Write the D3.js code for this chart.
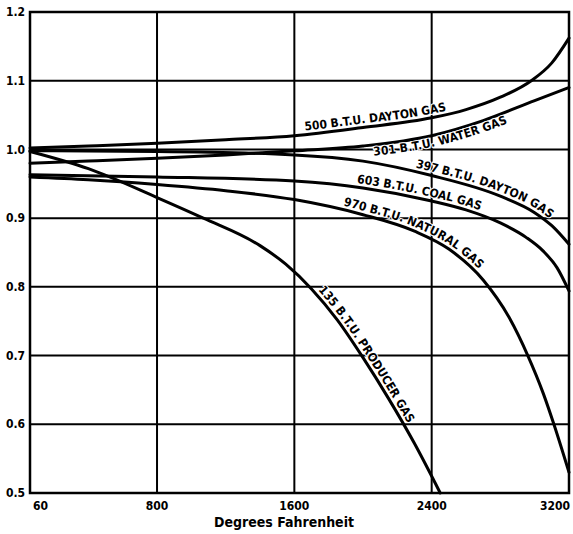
<!DOCTYPE html>
<html>
<head>
<meta charset="utf-8">
<script src="https://cdn.jsdelivr.net/npm/d3@7"></script>
<style>
  html, body { margin: 0; padding: 0; background: #fff; }
  svg { display: block; }
</style>
</head>
<body>
<svg id="chart" width="573" height="534"></svg>
<script>
// ---- data ----
const xTicks = [60, 800, 1600, 2400, 3200];
const yTicks = [0.5, 0.6, 0.7, 0.8, 0.9, 1.0, 1.1, 1.2];
const yTickLabels = ["0.5", "0.6", "0.7", "0.8", "0.9", "1.0", "1.1", "1.2"];
const xTitle = "Degrees Fahrenheit";

const dayton500T = [60, 400, 800, 1200, 1600, 2000, 2400, 2600, 2800, 2980, 3100, 3200];
const dayton500V = [1.002, 1.005, 1.009, 1.014, 1.02, 1.032, 1.046, 1.058, 1.076, 1.10, 1.126, 1.162];

const water301T = [60, 400, 800, 1200, 1600, 2000, 2400, 2700, 3000, 3200];
const water301V = [0.98, 0.983, 0.987, 0.992, 0.998, 1.005, 1.02, 1.042, 1.071, 1.09];

const dayton397T = [60, 800, 1600, 2000, 2400, 2800, 3000, 3100, 3200];
const dayton397V = [0.998, 0.997, 0.992, 0.983, 0.962, 0.932, 0.908, 0.889, 0.862];

const coal603T = [60, 800, 1600, 2000, 2400, 2600, 2800, 2950, 3050, 3130, 3200];
const coal603V = [0.963, 0.96, 0.954, 0.944, 0.925, 0.912, 0.893, 0.872, 0.852, 0.828, 0.794];

const natural970T = [60, 400, 800, 1200, 1600, 2000, 2300, 2500, 2700, 2850, 2960, 3050, 3112, 3200];
const natural970V = [0.96, 0.956, 0.949, 0.94, 0.927, 0.905, 0.881, 0.855, 0.81, 0.756, 0.70, 0.645, 0.60, 0.53];

const producer135T = [60, 400, 800, 1070, 1400, 1550, 1700, 1850, 2000, 2150, 2300, 2450];
const producer135V = [0.997, 0.972, 0.93, 0.90, 0.86, 0.833, 0.797, 0.752, 0.697, 0.637, 0.572, 0.5];

const seriesNames = [
  "500 B.T.U. DAYTON GAS",
  "301 B.T.U. WATER GAS",
  "397 B.T.U. DAYTON GAS",
  "603 B.T.U. COAL GAS",
  "970 B.T.U. NATURAL GAS",
  "135 B.T.U. PRODUCER GAS"
];
const seriesT = [dayton500T, water301T, dayton397T, coal603T, natural970T, producer135T];
const seriesV = [dayton500V, water301V, dayton397V, coal603V, natural970V, producer135V];
// where each label starts (degrees F) and which side of the curve it sits on
const labelStartT = [1665, 2056, 2300, 1960, 1880, 1720];
const labelSide = [-1, 1, -1, -1, -1, -1];

// ---- drawing ----
const svg = d3.select("#chart");
const mL = 30, mR = 569, mT = 12, mB = 493;
const x = d3.scaleLinear().domain([60, 3200]).range([mL, mR]);
const y = d3.scaleLinear().domain([0.5, 1.2]).range([mB, mT]);

const font = "'DejaVu Sans Condensed', 'DejaVu Sans', sans-serif";

// grid
const g = svg.append("g");
g.selectAll("line.vg").data(xTicks.slice(1, -1)).join("line")
  .attr("x1", d => x(d)).attr("x2", d => x(d))
  .attr("y1", mT).attr("y2", mB)
  .attr("stroke", "#000").attr("stroke-width", 2);
g.selectAll("line.hg").data(yTicks.slice(1, -1)).join("line")
  .attr("x1", mL).attr("x2", mR)
  .attr("y1", d => y(d)).attr("y2", d => y(d))
  .attr("stroke", "#000").attr("stroke-width", 2);

// frame
svg.append("rect")
  .attr("x", mL).attr("y", mT)
  .attr("width", mR - mL).attr("height", mB - mT)
  .attr("fill", "none").attr("stroke", "#000").attr("stroke-width", 2.5);

// y tick labels
svg.selectAll("text.yt").data(yTicks).join("text")
  .attr("x", mL - 5).attr("y", d => y(d))
  .attr("dy", "0.35em")
  .attr("text-anchor", "end")
  .attr("font-family", font).attr("font-weight", "bold").attr("font-size", 12)
  .text((d, i) => yTickLabels[i]);

// x tick labels
svg.selectAll("text.xt").data(xTicks).join("text")
  .attr("x", (d, i) => i === 0 ? x(d) + 3 : (i === xTicks.length - 1 ? x(d) + 1 : x(d)))
  .attr("y", 510)
  .attr("text-anchor", (d, i) => i === 0 ? "start" : (i === xTicks.length - 1 ? "end" : "middle"))
  .attr("font-family", font).attr("font-weight", "bold").attr("font-size", 12)
  .text(d => d);

svg.append("text")
  .attr("x", 284).attr("y", 527)
  .attr("text-anchor", "middle")
  .attr("font-family", font).attr("font-weight", "bold").attr("font-size", 14)
  .text(xTitle);

// curves
const line = d3.line().x(d => x(d[0])).y(d => y(d[1])).curve(d3.curveMonotoneX);
const curves = svg.append("g");
seriesNames.forEach((name, i) => {
  const pts = seriesT[i].map((t, j) => [t, seriesV[i][j]]);
  const p = curves.append("path")
    .attr("id", "c" + i)
    .attr("d", line(pts))
    .attr("fill", "none").attr("stroke", "#000").attr("stroke-width", 3)
    .attr("stroke-linecap", "round");
  const node = p.node();
  const L = node.getTotalLength();
  const tx = x(labelStartT[i]);
  let lo = 0, hi = L;
  for (let k = 0; k < 40; k++) {
    const mid = (lo + hi) / 2;
    if (node.getPointAtLength(mid).x < tx) lo = mid; else hi = mid;
  }
  svg.append("text")
    .attr("font-family", font).attr("font-weight", "bold").attr("font-size", 12)
    .attr("dy", labelSide[i] < 0 ? -4 : 11)
    .attr("stroke", "#fff").attr("stroke-width", 2).attr("paint-order", "stroke")
    .append("textPath")
    .attr("href", "#c" + i)
    .attr("startOffset", lo)
    .text(name);
});
</script>
</body>
</html>
